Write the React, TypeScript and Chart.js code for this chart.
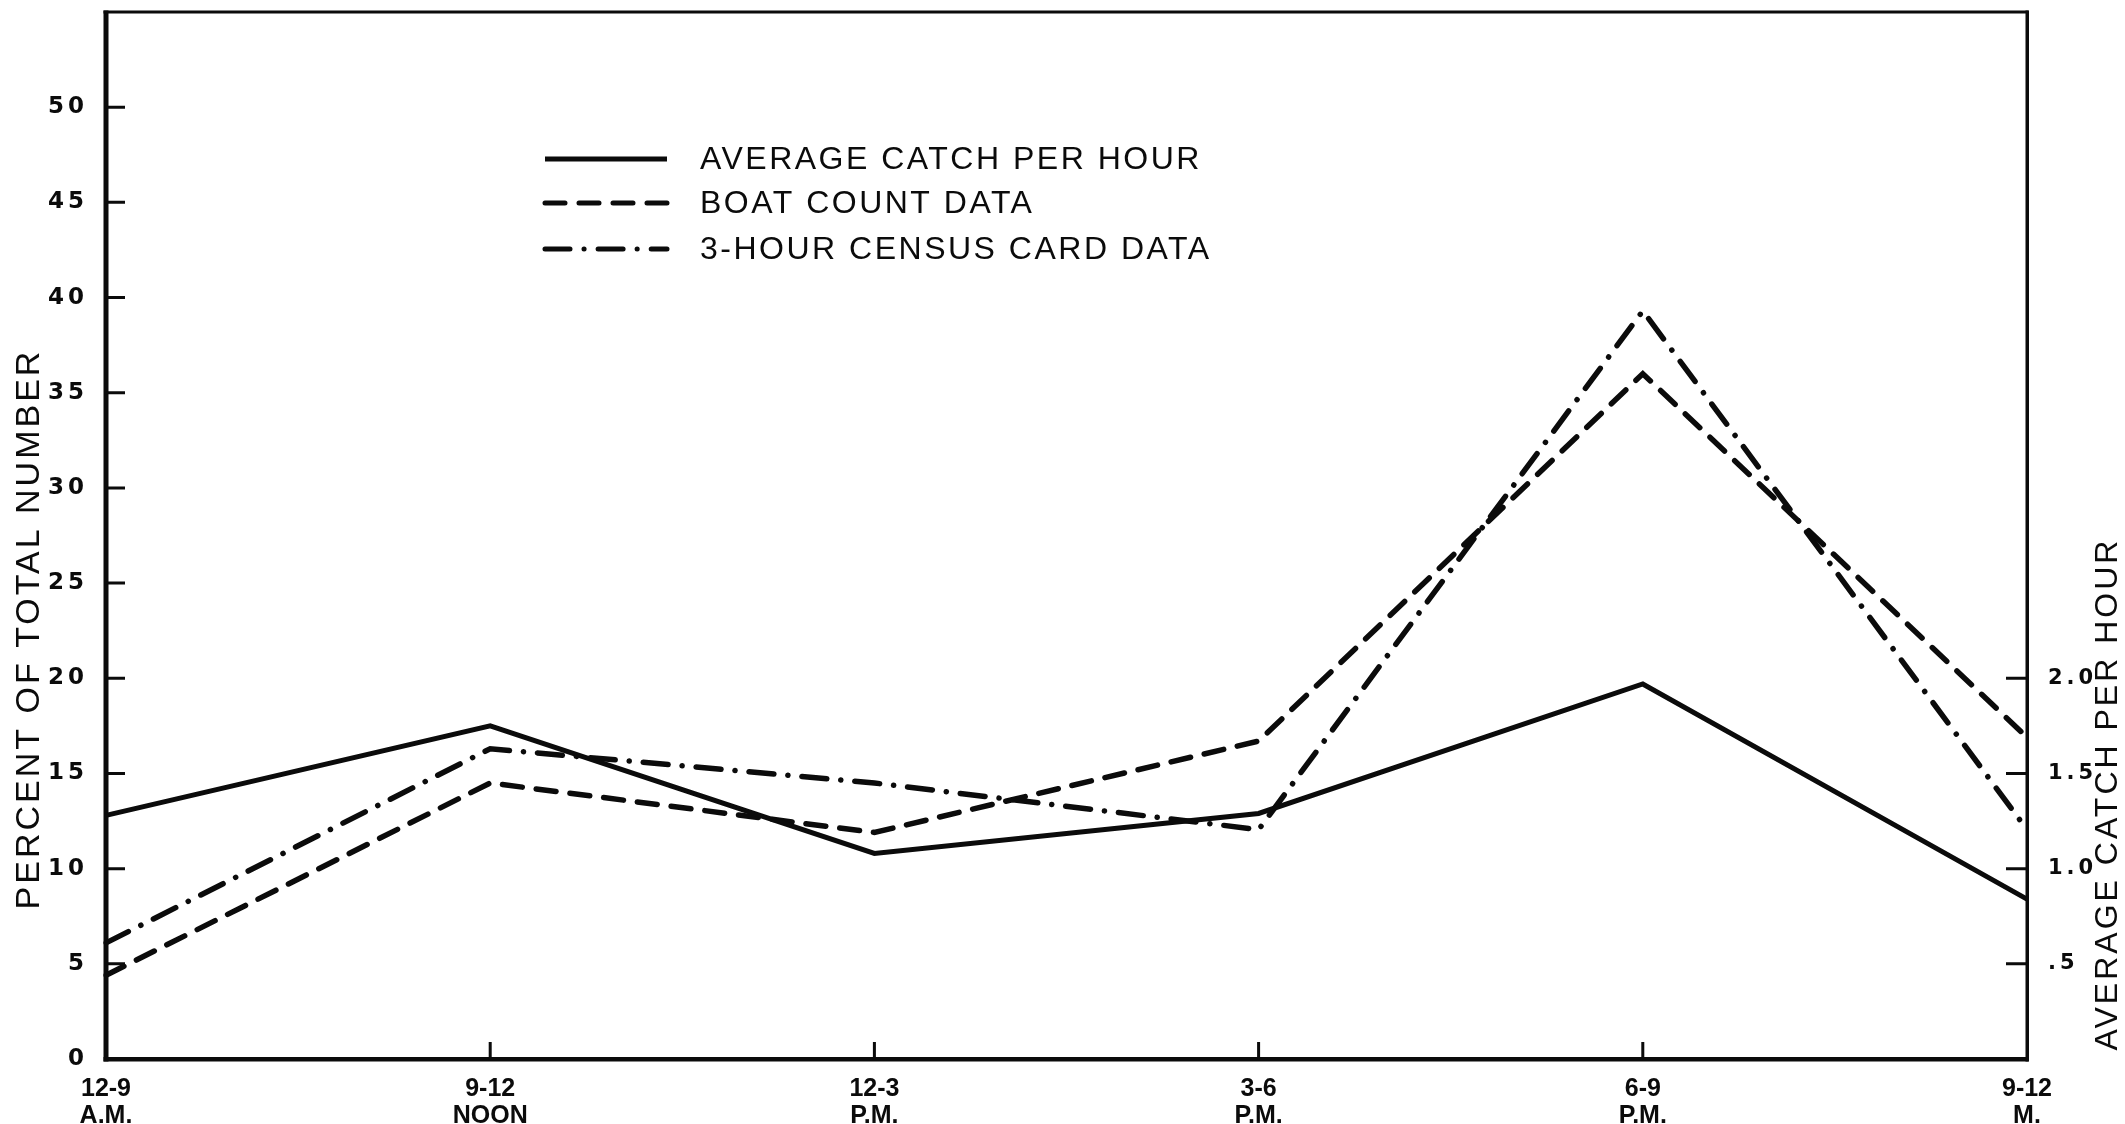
import React, { useEffect, useRef } from 'react';
import { Chart, registerables } from 'chart.js';

Chart.register(...registerables);

// ---- data ----
const CATEGORIES: string[][] = [
  ['12-9', 'A.M.'],
  ['9-12', 'NOON'],
  ['12-3', 'P.M.'],
  ['3-6', 'P.M.'],
  ['6-9', 'P.M.'],
  ['9-12', 'M.'],
];
const CATCH_PER_HOUR = [1.28, 1.75, 1.08, 1.29, 1.97, 0.84];
const BOAT_COUNT = [4.4, 14.5, 11.9, 16.7, 36.0, 16.9];
const CENSUS_CARD = [6.1, 16.3, 14.5, 12.05, 39.3, 12.05];
const LEFT_TICKS = [0, 5, 10, 15, 20, 25, 30, 35, 40, 45, 50];
const RIGHT_TICKS = [0.5, 1.0, 1.5, 2.0];
const RIGHT_TICK_LABELS = ['.5', '1.0', '1.5', '2.0'];
const SERIES_LABELS = ['AVERAGE CATCH PER HOUR', 'BOAT COUNT DATA', '3-HOUR CENSUS CARD DATA'];
const LEFT_TITLE = 'PERCENT OF TOTAL NUMBER';
const RIGHT_TITLE = 'AVERAGE CATCH PER HOUR';

const INK = '#0b0b0b';
const DASHES: number[][] = [[], [20, 14], [25, 14, 0.1, 14]];

const spacingPlugin = {
  id: 'spacing',
  beforeDraw(chart: any) {
    chart.ctx.letterSpacing = '4px';
  },
  beforeDatasetsDraw(chart: any) {
    chart.ctx.letterSpacing = '0px';
  },
};

const framePlugin = {
  id: 'frame',
  afterDraw(chart: any) {
    const { ctx, chartArea: a, scales } = chart;
    ctx.save();
    ctx.letterSpacing = '0px';
    ctx.fillStyle = INK;
    // frame
    ctx.fillRect(a.left - 2.5, a.top - 1.5, 5, a.bottom - a.top + 4); // left
    ctx.fillRect(a.left - 2.5, a.bottom - 2, a.right - a.left + 4, 4.5); // bottom
    ctx.fillRect(a.left - 2.5, a.top - 1.5, a.right - a.left + 4, 3); // top
    ctx.fillRect(a.right - 1.5, a.top - 1.5, 3.5, a.bottom - a.top + 4); // right
    // inward tick marks
    ctx.strokeStyle = INK;
    ctx.lineWidth = 3;
    ctx.beginPath();
    const y = scales.y;
    y.ticks.forEach((t: any) => {
      if (t.value === 0) return;
      const py = y.getPixelForValue(t.value);
      ctx.moveTo(a.left, py);
      ctx.lineTo(a.left + 19, py);
    });
    const y1 = scales.y1;
    y1.ticks.forEach((t: any) => {
      const py = y1.getPixelForValue(t.value);
      ctx.moveTo(a.right, py);
      ctx.lineTo(a.right - 21, py);
    });
    const x = scales.x;
    x.ticks.forEach((_t: any, i: number) => {
      if (i === 0 || i === x.ticks.length - 1) return;
      const px = x.getPixelForTick(i);
      ctx.moveTo(px, a.bottom);
      ctx.lineTo(px, a.bottom - 17);
    });
    ctx.stroke();

    // axis titles
    ctx.fillStyle = INK;
    ctx.textAlign = 'center';
    ctx.textBaseline = 'middle';
    ctx.font = '34px "Liberation Sans", Arial, sans-serif';
    ctx.letterSpacing = '3px';
    ctx.save();
    ctx.translate(30, 629);
    ctx.rotate(-Math.PI / 2);
    ctx.fillText(LEFT_TITLE, 0, 0);
    ctx.restore();
    ctx.font = '32px "Liberation Sans", Arial, sans-serif';
    ctx.save();
    ctx.translate(2108, 794);
    ctx.rotate(-Math.PI / 2);
    ctx.fillText(RIGHT_TITLE, 0, 0);
    ctx.restore();

    // legend
    const rows = [159, 203, 249];
    const ds = chart.data.datasets;
    ds.forEach((d: any, i: number) => {
      const ry = rows[i];
      ctx.save();
      ctx.strokeStyle = INK;
      ctx.lineWidth = 5;
      ctx.lineCap = d.borderCapStyle || 'butt';
      ctx.setLineDash(d.borderDash || []);
      ctx.beginPath();
      ctx.moveTo(545, ry);
      ctx.lineTo(667, ry);
      ctx.stroke();
      ctx.restore();
      ctx.textAlign = 'left';
      ctx.font = '32px "Liberation Sans", Arial, sans-serif';
      ctx.letterSpacing = '2.5px';
      ctx.fillText(d.label, 700, ry + 1);
    });
    ctx.restore();
  },
};

const zeroVPad = (s: any, w: number) => {
  s.width = w;
  s.paddingTop = 0;
  s.paddingBottom = 0;
};

export default function App() {
  const ref = useRef<HTMLCanvasElement | null>(null);
  useEffect(() => {
    const canvas = ref.current;
    if (!canvas) return;
    const chart = new Chart(canvas, {
      type: 'line',
      data: {
        labels: CATEGORIES,
        datasets: [
          {
            label: SERIES_LABELS[0],
            data: CATCH_PER_HOUR,
            yAxisID: 'y1',
            borderColor: INK,
            borderWidth: 5,
            borderDash: DASHES[0],
            borderCapStyle: 'butt',
            pointRadius: 0,
            tension: 0,
            fill: false,
          },
          {
            label: SERIES_LABELS[1],
            data: BOAT_COUNT,
            yAxisID: 'y',
            borderColor: INK,
            borderWidth: 5.5,
            borderDash: DASHES[1],
            borderCapStyle: 'round',
            pointRadius: 0,
            tension: 0,
            fill: false,
          },
          {
            label: SERIES_LABELS[2],
            data: CENSUS_CARD,
            yAxisID: 'y',
            borderColor: INK,
            borderWidth: 5.5,
            borderDash: DASHES[2],
            borderCapStyle: 'round',
            pointRadius: 0,
            tension: 0,
            fill: false,
          },
        ],
      },
      options: {
        animation: false,
        responsive: false,
        maintainAspectRatio: false,
        devicePixelRatio: 1,
        layout: { padding: { top: 12, left: 0, right: 0, bottom: 0 } },
        plugins: { legend: { display: false }, title: { display: false }, tooltip: { enabled: false } },
        scales: {
          x: {
            type: 'category',
            offset: false,
            grid: { display: false },
            border: { display: false },
            ticks: {
              z: 1,
              color: INK,
              autoSkip: false,
              maxRotation: 0,
              padding: 8,
              font: {
                family: '"Liberation Sans Narrow", "Liberation Sans", Arial, sans-serif',
                size: 25,
                weight: 'bold',
                lineHeight: 1.1,
              },
            },
            afterFit: (s: any) => {
              s.height = 65;
              s.paddingLeft = 0;
              s.paddingRight = 0;
            },
          },
          y: {
            type: 'linear',
            position: 'left',
            min: 0,
            max: 55,
            grid: { display: false },
            border: { display: false },
            afterBuildTicks: (s: any) => {
              s.ticks = LEFT_TICKS.map((v) => ({ value: v }));
            },
            ticks: {
              color: INK,
              autoSkip: false,
              padding: 10,
              font: { family: '"DejaVu Sans", sans-serif', size: 23, weight: 'bold' },
            },
            afterFit: (s: any) => zeroVPad(s, 106),
          },
          y1: {
            type: 'linear',
            position: 'right',
            min: 0,
            max: 5.5,
            grid: { display: false },
            border: { display: false },
            afterBuildTicks: (s: any) => {
              s.ticks = RIGHT_TICKS.map((v) => ({ value: v }));
            },
            ticks: {
              color: INK,
              autoSkip: false,
              padding: 13,
              font: { family: '"DejaVu Sans", sans-serif', size: 21, weight: 'bold' },
              callback: (_v: any, i: number) => RIGHT_TICK_LABELS[i],
            },
            afterFit: (s: any) => zeroVPad(s, 98),
          },
        },
      } as any,
      plugins: [spacingPlugin, framePlugin],
    });
    return () => chart.destroy();
  }, []);
  return (
    <div style={{ position: 'fixed', left: 0, top: 0, width: 2125, height: 1124, background: '#fff' }}>
      <canvas ref={ref} width={2125} height={1124} style={{ display: 'block', width: 2125, height: 1124 }} />
    </div>
  );
}
